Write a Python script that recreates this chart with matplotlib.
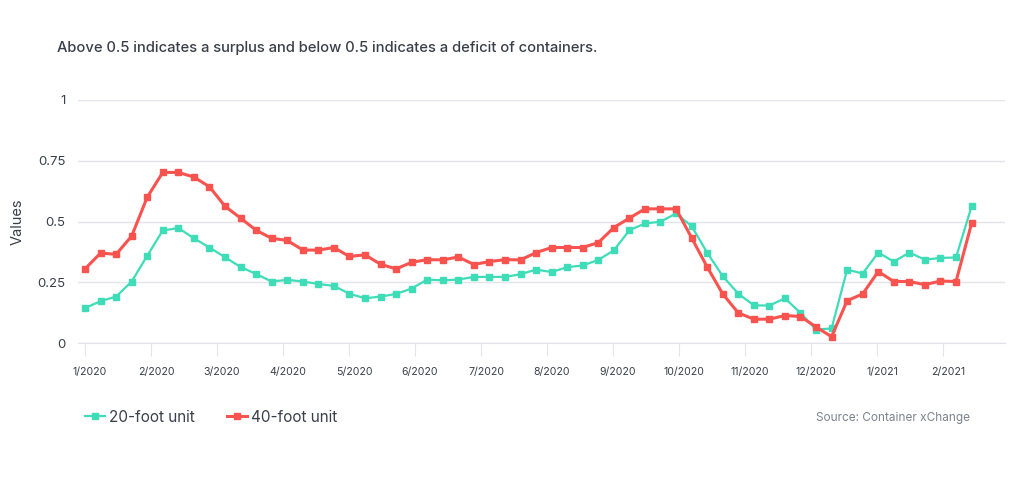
import matplotlib
matplotlib.use("Agg")
import matplotlib.pyplot as plt
from matplotlib.legend_handler import HandlerLine2D
from matplotlib.transforms import ScaledTranslation
import numpy as np

plt.rcParams['font.family'] = ['Inter', 'DejaVu Sans']

# weekly readings, Jan 2020 - Feb 2021
unit_20ft = [0.144, 0.172, 0.191, 0.253, 0.359, 0.463, 0.473, 0.431, 0.393, 0.353,
             0.313, 0.284, 0.253, 0.260, 0.253, 0.243, 0.235, 0.203, 0.184, 0.191,
             0.202, 0.224, 0.261, 0.258, 0.261, 0.272, 0.272, 0.272, 0.283, 0.302,
             0.292, 0.312, 0.319, 0.342, 0.381, 0.464, 0.492, 0.499, 0.533, 0.481,
             0.372, 0.275, 0.203, 0.155, 0.154, 0.184, 0.124, 0.055, 0.060, 0.302,
             0.286, 0.372, 0.335, 0.372, 0.343, 0.350, 0.352, 0.562]
unit_40ft = [0.305, 0.370, 0.365, 0.440, 0.600, 0.702, 0.702, 0.683, 0.643, 0.563,
             0.514, 0.464, 0.431, 0.422, 0.383, 0.382, 0.393, 0.356, 0.363, 0.324,
             0.305, 0.332, 0.343, 0.342, 0.354, 0.323, 0.335, 0.343, 0.342, 0.372,
             0.393, 0.393, 0.393, 0.413, 0.475, 0.514, 0.552, 0.552, 0.552, 0.433,
             0.313, 0.202, 0.124, 0.098, 0.098, 0.113, 0.109, 0.066, 0.026, 0.174,
             0.202, 0.294, 0.253, 0.253, 0.240, 0.255, 0.253, 0.492]
month_labels = ['1/2020', '2/2020', '3/2020', '4/2020', '5/2020', '6/2020', '7/2020',
                '8/2020', '9/2020', '10/2020', '11/2020', '12/2020', '1/2021', '2/2021']
y_ticks = [0, 0.25, 0.5, 0.75, 1]
y_tick_labels = ['0', '0.25', '0.5', '0.75', '1']

TEAL = '#3fdcb8'
RED = '#f8534f'
TEXT = '#3b3f4a'
GRID = '#e1e4ea'
WEEKS_PER_MONTH = 4.244


class StartMarkerHandler(HandlerLine2D):
    # marker at the left end of the legend line
    def get_xdata(self, legend, xdescent, ydescent, width, height, fontsize):
        xdata = np.array([-xdescent, -xdescent + width])
        return xdata, np.array([-xdescent + 1.5])


fig = plt.figure(figsize=(10.24, 4.8), dpi=100)
ax = fig.add_axes([78 / 1024, 1 - 343 / 480, 927 / 1024, 243 / 480])

x = np.arange(len(unit_20ft))
l20, = ax.plot(x, unit_20ft, color=TEAL, lw=1.6, marker='s', ms=4.6, zorder=3,
               label='20-foot unit')
l40, = ax.plot(x, unit_40ft, color=RED, lw=2.2, marker='s', ms=4.6, zorder=4,
               label='40-foot unit')

ax.set_xlim(-0.45, 59.15)
ax.set_ylim(0, 1)
ax.set_xticks(np.arange(len(month_labels)) * WEEKS_PER_MONTH)
ax.set_xticklabels(month_labels)
ax.set_yticks(y_ticks)
ax.set_yticklabels(y_tick_labels)
ax.yaxis.grid(True, color=GRID, lw=1)
ax.set_axisbelow(True)
for s in ['top', 'right', 'left']:
    ax.spines[s].set_visible(False)
ax.spines['bottom'].set_color(GRID)
ax.tick_params(axis='x', length=9, color=GRID, labelcolor=TEXT, labelsize=7.6, pad=8)
ax.tick_params(axis='y', length=0, labelcolor=TEXT, labelsize=9.5, pad=9)
ax.set_ylabel('Values', color=TEXT, fontsize=10.5, labelpad=9)

shift = ScaledTranslation(5 / 100, 0, fig.dpi_scale_trans)
for lab in ax.get_xticklabels():
    lab.set_transform(lab.get_transform() + shift)

fig.text(57 / 1024, 1 - 48 / 480, 'Above 0.5 indicates a surplus and below 0.5 indicates a deficit of containers.',
         color=TEXT, fontsize=10.6, fontweight='medium', va='center', ha='left')

fig.legend(handles=[l20, l40], loc='center left', bbox_to_anchor=(71 / 1024, 1 - 417 / 480),
           ncol=2, frameon=False, fontsize=11, handlelength=1.3, handletextpad=0.3,
           columnspacing=2.1, labelcolor=TEXT,
           handler_map={l20: StartMarkerHandler(numpoints=1), l40: StartMarkerHandler(numpoints=1)})

fig.text(970 / 1024, 1 - 418 / 480, 'Source: Container xChange', color='#7d828c',
         fontsize=8.5, ha='right', va='center')

fig.savefig('out.png', dpi=100)
